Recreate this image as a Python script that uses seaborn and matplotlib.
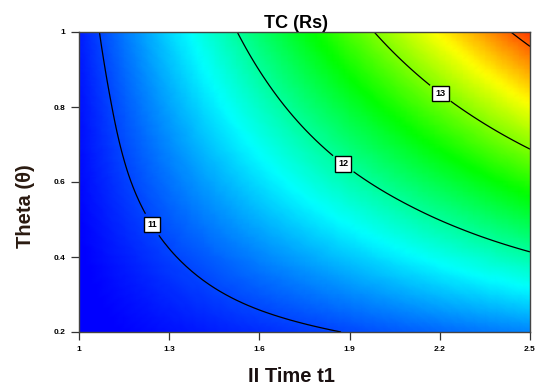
import numpy as np
import matplotlib
matplotlib.use("Agg")
import matplotlib.pyplot as plt
import matplotlib.tri as mtri
import seaborn as sns

# ---- data (TC values on the tick grid) ----
t1_values = [1.0, 1.3, 1.6, 1.9, 2.2, 2.5]
theta_values = [0.2, 0.4, 0.6, 0.8, 1.0]
tc_theta_02 = [10.71, 10.81, 10.91, 11.01, 11.12, 11.22]
tc_theta_04 = [10.74, 10.98, 11.22, 11.46, 11.71, 11.95]
tc_theta_06 = [10.78, 11.16, 11.54, 11.92, 12.30, 12.68]
tc_theta_08 = [10.81, 11.33, 11.85, 12.37, 12.89, 13.41]
tc_theta_10 = [10.85, 11.51, 12.16, 12.82, 13.48, 14.14]
contour_levels = [11, 12, 13, 14]
labelled_levels = [11, 12, 13]
label_spots_t1 = [1.27, 1.89, 2.21]
label_spots_theta = [0.50, 0.66, 0.845]
x_ticks = [1, 1.3, 1.6, 1.9, 2.2, 2.5]
x_tick_labels = ["1", "1.3", "1.6", "1.9", "2.2", "2.5"]
y_ticks = [0.2, 0.4, 0.6, 0.8, 1.0]
y_tick_labels = ["0.2", "0.4", "0.6", "0.8", "1"]

sns.set_style("white")
plt.rcParams["font.family"] = ["Liberation Sans", "DejaVu Sans"]
plt.rcParams["text.color"] = "black"
plt.rcParams["axes.labelcolor"] = "black"
plt.rcParams["xtick.color"] = "black"
plt.rcParams["ytick.color"] = "black"

tc_grid = np.array([tc_theta_02, tc_theta_04, tc_theta_06, tc_theta_08, tc_theta_10])
X, Y = np.meshgrid(t1_values, theta_values)
tri = mtri.Triangulation(X.ravel(), Y.ravel())
interp = mtri.CubicTriInterpolator(tri, tc_grid.ravel(), kind="min_E")
refiner = mtri.UniformTriRefiner(tri)
tri_f, z_f = refiner.refine_field(tc_grid.ravel(), triinterpolator=interp, subdiv=4)

cmap = sns.blend_palette(["#0000ff", "#00ffff", "#00ff00", "#ffff00", "#ff0000"], as_cmap=True)

fig = plt.figure(figsize=(5.35, 3.89), dpi=100)
ax = fig.add_axes([79 / 535, 1 - 332 / 389, 451 / 535, 300 / 389])

ax.tripcolor(tri_f, z_f, shading="gouraud", cmap=cmap, vmin=10.75, vmax=14.35)
cs = ax.tricontour(tri_f, z_f, levels=contour_levels, colors="black", linewidths=0.9)

manual = list(zip(label_spots_t1, label_spots_theta))
labels = ax.clabel(cs, levels=labelled_levels, manual=manual, fmt="%d",
                   fontsize=6.5, inline=True, inline_spacing=8)
for t in labels:
    t.set_rotation(0)
    t.set_fontweight("bold")
    t.set_bbox(dict(boxstyle="square,pad=0.35", facecolor="white",
                    edgecolor="black", linewidth=1.0))

ax.set_xlim(1, 2.5)
ax.set_ylim(0.2, 1.0)
ax.set_xticks(x_ticks)
ax.set_xticklabels(x_tick_labels, fontsize=6, fontweight="bold")
ax.set_yticks(y_ticks)
ax.set_yticklabels(y_tick_labels, fontsize=6, fontweight="bold")
ax.tick_params(direction="out", length=6, width=0.9, color="#333333", pad=4,
               bottom=True, left=True)
for s in ax.spines.values():
    s.set_color("#444444")
    s.set_linewidth(1.0)

ax.set_title("TC (Rs)", fontsize=13, fontweight="bold", pad=3, color="black", x=0.481)
ax.set_xlabel("II Time t1", fontsize=14.5, fontweight="bold", color="#1a1010")
ax.set_ylabel("Theta (\u03b8)", fontsize=14.5, fontweight="bold", color="#2a1a10")
ax.xaxis.set_label_coords(0.472, -0.118)
ax.yaxis.set_label_coords(-0.098, 0.42)

fig.savefig("out.png", dpi=100)
